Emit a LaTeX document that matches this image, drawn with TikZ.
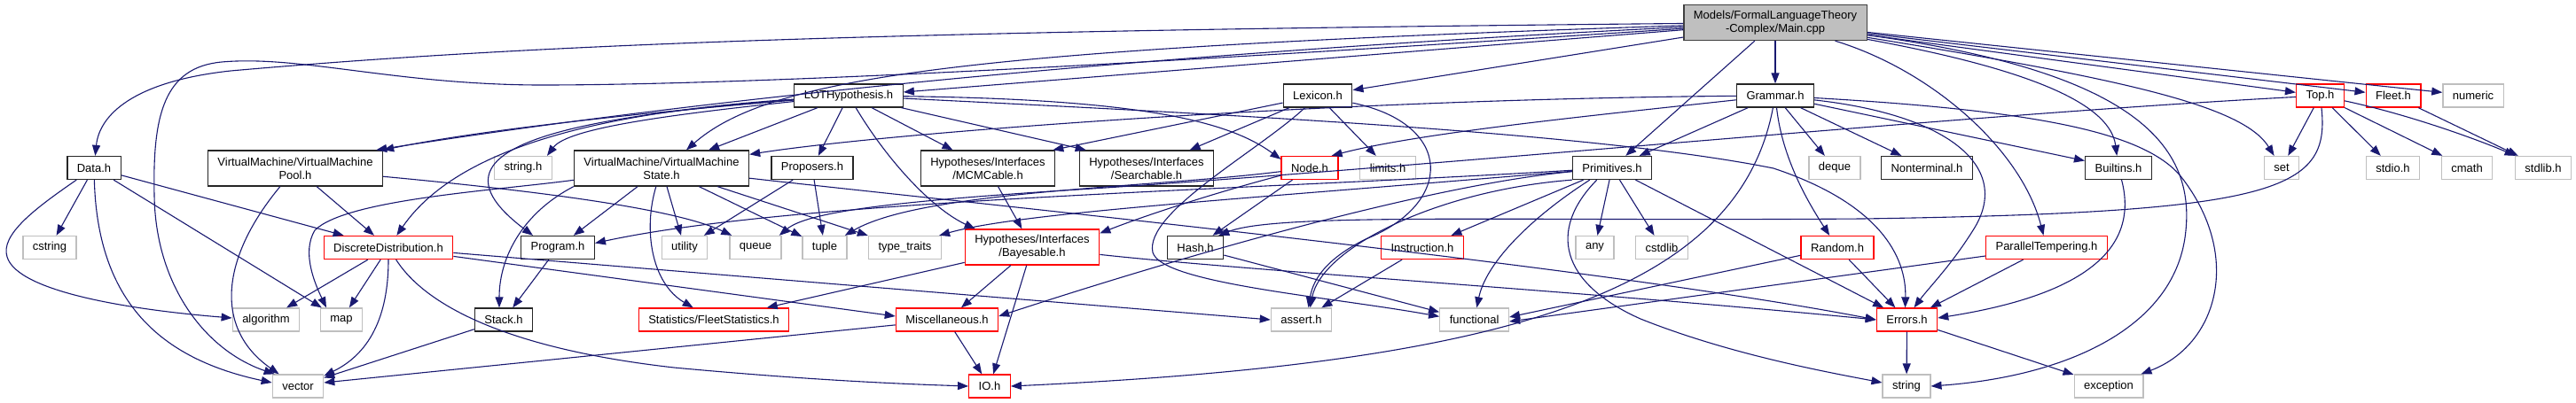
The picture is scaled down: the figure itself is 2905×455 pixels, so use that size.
\documentclass[tikz,border=0pt]{standalone}
\usepackage{fontspec}
\setmainfont{Liberation Sans}
\usetikzlibrary{arrows.meta}
\definecolor{edgeblue}{HTML}{191970}
\definecolor{grey75}{HTML}{BFBFBF}
\newcommand\gfont{\fontsize{13}{15}\selectfont}
\tikzset{
  hfile/.style={draw=black!85, line width=1.3pt, fill=white, font=\gfont, align=center,
    inner xsep=11pt, inner ysep=2pt, minimum height=26pt},
  sysfile/.style={hfile, draw=grey75},
  cutfile/.style={hfile, draw=red},
  mainfile/.style={hfile, draw=black!75, fill=grey75},
  tall/.style={minimum height=40pt},
  inc/.style={draw=edgeblue, line width=1.1pt, -{Triangle[length=12pt,width=9pt]}},
}
\begin{document}
\begin{tikzpicture}[x=1pt,y=-1pt]
\useasboundingbox (0,0) rectangle (2905,455);
% Reihe 1
\node[mainfile, tall] (main) at (2002,25.5) {Models/FormalLanguageTheory\\-Complex/Main.cpp};
% Reihe 2
\node[hfile] (lot) at (957,108) {LOTHypothesis.h};
\node[hfile] (lexicon) at (1486,108) {Lexicon.h};
\node[hfile] (grammar) at (2002,108) {Grammar.h};
\node[cutfile] (top) at (2616.5,108) {Top.h};
\node[cutfile] (fleet) at (2699,108) {Fleet.h};
\node[sysfile] (numeric) at (2789,108) {numeric};
% Reihe 3
\node[hfile] (data) at (106,189.5) {Data.h};
\node[hfile, tall] (vmpool) at (333,190) {VirtualMachine/VirtualMachine\\Pool.h};
\node[sysfile] (stringh) at (590,189.5) {string.h};
\node[hfile, tall] (vmstate) at (746,190) {VirtualMachine/VirtualMachine\\State.h};
\node[hfile] (proposers) at (916,189.5) {Proposers.h};
\node[hfile, tall] (mcmcable) at (1114,190) {Hypotheses/Interfaces\\/MCMCable.h};
\node[hfile, tall] (searchable) at (1293,190) {Hypotheses/Interfaces\\/Searchable.h};
\node[cutfile] (nodeh) at (1477,189.5) {Node.h};
\node[sysfile] (limits) at (1565,189.5) {limits.h};
\node[hfile] (primitives) at (1818,189.5) {Primitives.h};
\node[sysfile] (deque) at (2069,189.5) {deque};
\node[hfile] (nonterminal) at (2173,189.5) {Nonterminal.h};
\node[hfile] (builtins) at (2389,189.5) {Builtins.h};
\node[sysfile] (set) at (2573,189.5) {set};
\node[sysfile] (stdio) at (2698.5,189.5) {stdio.h};
\node[sysfile] (cmath) at (2782,189.5) {cmath};
\node[sysfile] (stdlib) at (2868,189.5) {stdlib.h};
% Reihe 4
\node[sysfile] (cstring) at (56,279.5) {cstring};
\node[cutfile] (discrete) at (438,279.5) {DiscreteDistribution.h};
\node[hfile] (program) at (629,279.5) {Program.h};
\node[sysfile] (utility) at (772,279.5) {utility};
\node[sysfile] (queue) at (852,279.5) {queue};
\node[sysfile] (tuple) at (930,279.5) {tuple};
\node[sysfile] (typetraits) at (1020.5,279.5) {type\_traits};
\node[cutfile, tall] (bayesable) at (1164,279) {Hypotheses/Interfaces\\/Bayesable.h};
\node[hfile] (hash) at (1348,279.5) {Hash.h};
\node[cutfile] (instruction) at (1604,279.5) {Instruction.h};
\node[sysfile] (any) at (1798.5,279.5) {any};
\node[sysfile] (cstdlib) at (1874,279.5) {cstdlib};
\node[cutfile] (random) at (2072,279.5) {Random.h};
\node[cutfile] (parallel) at (2308,279.5) {ParallelTempering.h};
% Reihe 5
\node[sysfile] (algorithm) at (300,361) {algorithm};
\node[sysfile] (map) at (385,361) {map};
\node[hfile] (stack) at (568,361) {Stack.h};
\node[cutfile] (fleetstats) at (805,361) {Statistics/FleetStatistics.h};
\node[cutfile] (misc) at (1068,361) {Miscellaneous.h};
\node[sysfile] (assert) at (1467.5,361) {assert.h};
\node[sysfile] (functional) at (1662.6,361) {functional};
\node[cutfile] (errors) at (2150.5,361) {Errors.h};
% Reihe 6
\node[sysfile] (vector) at (336,436) {vector};
\node[cutfile] (io) at (1116,436) {IO.h};
\node[sysfile] (string) at (2150,436) {string};
\node[sysfile] (exception) at (2378,436) {exception};

% Main.cpp
\draw[inc] (main) .. controls (1000,35) and (600,50) .. (260,80) .. controls (150,92) and (112,130) .. (data);
\draw[inc] (main) .. controls (1400,65) and (900,95) .. (620,96) .. controls (450,97) and (340,62) .. (250,70) .. controls (185,76) and (172,130) .. (174,220) .. controls (175,320) and (230,395) .. ([xshift=3pt]vector.north west);
\draw[inc] (main) .. controls (1300,60) and (800,110) .. ([xshift=-8pt]vmpool.north east);
\draw[inc] (main) -- ([yshift=4pt]lot.east);
\draw[inc] (main) .. controls (1100,55) and (870,85) .. ([xshift=28pt]vmstate.north);
\draw[inc] (main) -- (lexicon);
\draw[inc] (main) -- (grammar);
\draw[inc] (main) -- (primitives);
\draw[inc] (main) .. controls (2300,80) and (2380,120) .. (builtins);
\draw[inc] (main) .. controls (2400,90) and (2530,120) .. (set);
\draw[inc] (main) -- (top);
\draw[inc] (main) -- (fleet);
\draw[inc] (main) -- (numeric);
\draw[inc] (main) .. controls (2400,80) and (2475,160) .. (2465,260) .. controls (2455,370) and (2330,425) .. (string.east);
\draw[inc] (main) .. controls (2180,80) and (2280,170) .. (parallel);
% LOTHypothesis.h
\draw[inc] (lot) .. controls (750,125) and (550,145) .. (vmpool.north east);
\draw[inc] (lot) .. controls (750,130) and (640,145) .. ([xshift=-6pt]stringh.north east);
\draw[inc] (lot) -- (vmstate);
\draw[inc] (lot) -- (proposers);
\draw[inc] (lot) -- (mcmcable);
\draw[inc] (lot) -- ([xshift=8pt]searchable.north west);
\draw[inc] (lot) .. controls (1000,180) and (1050,235) .. ([xshift=12pt]bayesable.north west);
\draw[inc] (lot) .. controls (700,125) and (520,160) .. (discrete);
\draw[inc] (lot) .. controls (600,135) and (480,175) .. ([xshift=-28pt]program.north);
\draw[inc] (lot) .. controls (1300,112) and (1390,140) .. ([yshift=-4pt]nodeh.north west);
\draw[inc] (lot) .. controls (1400,130) and (1800,150) .. (2000,190) .. controls (2120,230) and (2150,290) .. ([xshift=-2pt]errors.north);
% Lexicon.h
\draw[inc] (lexicon) -- ([xshift=-3pt]mcmcable.north east);
\draw[inc] (lexicon) -- (searchable);
\draw[inc] (lexicon) -- (limits);
\draw[inc] (lexicon) .. controls (1420,170) and (1290,240) .. (1300,285) .. controls (1310,320) and (1500,335) .. ([yshift=-10pt]functional.north west);
\draw[inc] (lexicon) .. controls (1640,140) and (1640,230) .. (1540,270) .. controls (1490,295) and (1480,320) .. ([xshift=8pt]assert.north);
% Grammar.h
\draw[inc] (grammar) .. controls (1500,112) and (1000,150) .. ([yshift=-5pt]vmstate.north east);
\draw[inc] (grammar) .. controls (1800,130) and (1600,150) .. ([xshift=-8pt]nodeh.north east);
\draw[inc] (grammar) -- (primitives);
\draw[inc] (grammar) -- (deque);
\draw[inc] (grammar) -- (nonterminal);
\draw[inc] (grammar) -- (builtins);
\draw[inc] (grammar) .. controls (2010,180) and (2040,230) .. (random);
\draw[inc] (grammar) .. controls (1960,330) and (1700,410) .. (io.east);
\draw[inc] (grammar) .. controls (2200,130) and (2270,190) .. (2225,260) .. controls (2200,300) and (2175,325) .. ([xshift=8pt]errors.north);
\draw[inc] (grammar) .. controls (2300,125) and (2420,150) .. (2460,200) .. controls (2530,290) and (2500,390) .. ([xshift=-3pt]exception.north east);
% Top.h, Fleet.h
\draw[inc] (top) -- (set);
\draw[inc] (top) -- (stdio);
\draw[inc] (top) -- (cmath);
\draw[inc] (top) .. controls (2720,130) and (2800,160) .. (stdlib);
\draw[inc] (top) .. controls (2628,215) and (2570,240) .. (2100,247) .. controls (1700,250) and (1440,240) .. ([xshift=-6pt]hash.north east);
\draw[inc] (top) .. controls (2200,130) and (1600,190) .. (1200,215) .. controls (1000,228) and (910,240) .. ([xshift=-3pt]queue.north east);
\draw[inc] (fleet) -- (stdlib);
% Data.h
\draw[inc] (data) -- (cstring);
\draw[inc] (data) .. controls (40,235) and (0,265) .. (8,290) .. controls (20,330) and (150,350) .. ([yshift=2pt]algorithm.west);
\draw[inc] (data) .. controls (110,340) and (180,405) .. ([yshift=4pt]vector.west);
\draw[inc] (data) -- (map);
\draw[inc] (data) -- (discrete);
% VirtualMachinePool.h
\draw[inc] (vmpool) .. controls (250,290) and (240,370) .. ([xshift=8pt]vector.north west);
\draw[inc] (vmpool) -- (discrete);
\draw[inc] (vmpool) .. controls (600,215) and (760,235) .. ([xshift=3pt]queue.north west);
% VirtualMachineState.h
\draw[inc] (vmstate) .. controls (560,215) and (390,225) .. (355,260) .. controls (340,285) and (355,320) .. ([xshift=-17pt]map.north);
\draw[inc] (vmstate.south west) .. controls (590,240) and (563,290) .. ([xshift=-5pt]stack.north);
\draw[inc] (vmstate) -- (program);
\draw[inc] (vmstate) -- (utility);
\draw[inc] (vmstate) -- (tuple);
\draw[inc] (vmstate) -- (typetraits);
\draw[inc] (vmstate) .. controls (725,260) and (735,320) .. (fleetstats);
\draw[inc] (vmstate) .. controls (1100,230) and (1800,300) .. (errors.west);
% Proposers.h, MCMCable.h, Node.h
\draw[inc] (proposers) -- (utility);
\draw[inc] (proposers) -- (tuple);
\draw[inc] (mcmcable) -- (bayesable);
\draw[inc] (nodeh) -- (hash);
\draw[inc] (nodeh) .. controls (1380,215) and (1300,240) .. ([yshift=-5pt]bayesable.north east);
\draw[inc] (nodeh) .. controls (1300,212) and (1040,215) .. ([xshift=-3pt]tuple.north east);
% Primitives.h
\draw[inc] (primitives) .. controls (1400,215) and (900,225) .. ([yshift=5pt]program.east);
\draw[inc] (primitives) .. controls (1400,225) and (1150,240) .. ([xshift=-3pt]typetraits.north east);
\draw[inc] (primitives) .. controls (1600,210) and (1300,300) .. ([yshift=4pt]misc.east);
\draw[inc] (primitives) -- (instruction);
\draw[inc] (primitives.south west) .. controls (1620,215) and (1490,280) .. ([xshift=10pt]assert.north);
\draw[inc] ([xshift=20pt]primitives.south west) .. controls (1720,250) and (1675,300) .. (functional);
\draw[inc] (primitives) -- (any);
\draw[inc] (primitives) -- (cstdlib);
\draw[inc] ([xshift=28pt]primitives.south west) .. controls (1745,260) and (1760,320) .. (1850,360) .. controls (1950,400) and (2060,420) .. ([yshift=4pt]string.west);
\draw[inc] (primitives) -- (errors);
% DiscreteDistribution.h
\draw[inc] (discrete) -- (algorithm);
\draw[inc] (discrete) -- (map);
\draw[inc] (discrete) .. controls (438,360) and (415,400) .. ([yshift=-2pt]vector.north east);
\draw[inc] (discrete) .. controls (470,330) and (540,390) .. (760,415) .. controls (900,428) and (1000,433) .. (io.west);
\draw[inc] (discrete) -- ([yshift=4pt]misc.west);
\draw[inc] (discrete) -- (assert.west);
% untere Reihen
\draw[inc] (program) -- (stack);
\draw[inc] (stack) -- (vector);
\draw[inc] (bayesable) -- (fleetstats);
\draw[inc] (bayesable) -- (misc);
\draw[inc] (bayesable) -- (io);
\draw[inc] (bayesable) .. controls (1400,305) and (1800,330) .. (errors.west);
\draw[inc] (misc) -- (io);
\draw[inc] (misc) -- ([yshift=4pt]vector.east);
\draw[inc] (hash) -- ([yshift=-5pt]functional.north west);
\draw[inc] (instruction) -- (assert);
\draw[inc] (random) -- ([yshift=3pt]functional.east);
\draw[inc] (random) -- (errors);
\draw[inc] (parallel) -- ([yshift=-2pt]functional.east);
\draw[inc] (parallel) -- (errors);
\draw[inc] (builtins) .. controls (2410,270) and (2370,330) .. ([yshift=2pt]errors.east);
\draw[inc] (errors) -- (string);
\draw[inc] (errors) -- (exception);
\end{tikzpicture}
\end{document}
